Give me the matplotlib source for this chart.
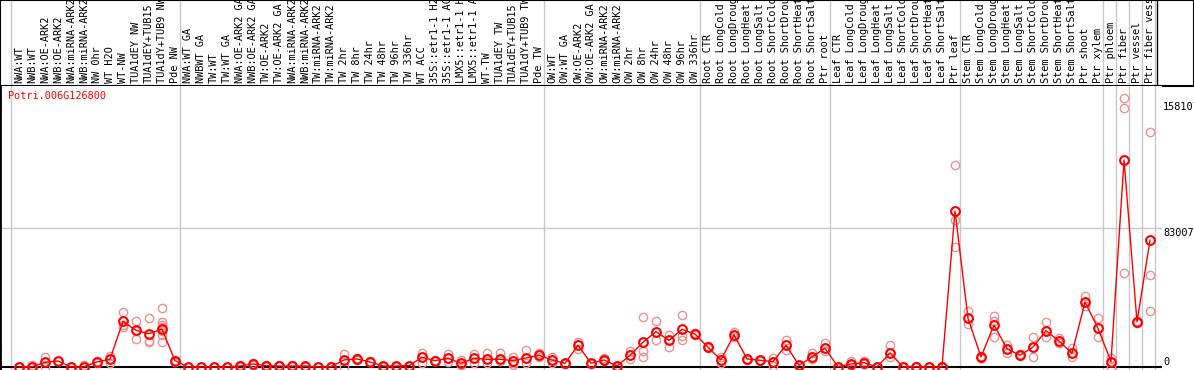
import numpy as np
import matplotlib
matplotlib.use('Agg')
import matplotlib.pyplot as plt
import matplotlib.transforms as mtransforms

# sample names, in plotted order
samples = [
    "NWA:WT", "NWB:WT", "NWA:OE-ARK2", "NWB:OE-ARK2", "NWA:miRNA-ARK2", "NWB:miRNA-ARK2",
    "NW 0hr", "WT H2O", "WT-NW", "TUA1dEY NW", "TUA1dEY+TUB15", "TUA1dY+TUB9 NW", "Pde NW",
    "NWA:WT GA", "NWBWT GA", "TW:WT", "TW:WT GA", "NWA:OE-ARK2 GA", "NWB:OE-ARK2 GA",
    "TW:OE-ARK2", "TW:OE-ARK2 GA", "NWA:miRNA-ARK2", "NWB:miRNA-ARK2", "TW:miRNA-ARK2",
    "TW:miRNA-ARK2", "TW 2hr", "TW 8hr", "TW 24hr", "TW 48hr", "TW 96hr", "TW 336hr",
    "WT ACC", "35S::etr1-1 H2O", "35S::etr1-1 ACC", "LMX5::etr1-1 H2O", "LMX5::etr1-1 ACC",
    "WT-TW", "TUA1dEY TW", "TUA1dEY+TUB15", "TUA1dY+TUB9 TW", "Pde TW",
    "OW:WT", "OW:WT GA", "OW:OE-ARK2", "OW:OE-ARK2 GA", "OW:miRNA-ARK2", "OW:miRNA-ARK2",
    "OW 2hr", "OW 8hr", "OW 24hr", "OW 48hr", "OW 96hr", "OW 336hr",
    "Root CTR", "Root LongCold", "Root LongDrought", "Root LongHeat", "Root LongSalt",
    "Root ShortCold", "Root ShortDrought", "Root ShortHeat", "Root ShortSalt", "Ptr root",
    "Leaf CTR", "Leaf LongCold", "Leaf LongDrought", "Leaf LongHeat", "Leaf LongSalt",
    "Leaf ShortCold", "Leaf ShortDrought", "Leaf ShortHeat", "Leaf ShortSalt", "Ptr leaf",
    "Stem CTR", "Stem LongCold", "Stem LongDrought", "Stem LongHeat", "Stem LongSalt",
    "Stem ShortCold", "Stem ShortDrought", "Stem ShortHeat", "Stem ShortSalt", "Ptr shoot",
    "Ptr xylem", "Ptr phloem", "Ptr fiber", "Ptr vessel", "Ptr fiber vessel",
]

# mean expression per sample
means = [
    0, 200, 2800, 3600, 0, 200, 3000, 4600, 27300, 21900, 19900, 22700, 3800,
    0, 0, 0, 0, 600, 1800, 800, 600, 600, 600, 0, 200, 4200, 4800, 3000, 600, 600, 800,
    5800, 3800, 5200, 2200, 5200, 4600, 4600, 3800, 5400, 7000,
    4200, 2200, 13000, 2200, 4200, 600, 7000, 14800, 21100, 15900, 22500, 19700,
    11800, 4200, 19300, 4800, 4000, 3200, 13000, 1000, 6000, 11200,
    200, 1800, 2600, 0, 8400, 0, 200, 0, 200, 93200,
    29100, 6000, 25100, 10900, 7000, 11900, 21700, 15500, 8200, 38800,
    23100, 3200, 123600, 26900, 75700,
]

# individual replicates per sample
replicates = [
    [0, 0, 0], [1200, 0, 200], [6000, 2800, 0], [3600, 3400, 3800], [0, 0, 0],
    [1200, 0, 0], [3000, 2400, 3600], [6600, 4600, 2600], [32700, 24000, 25200],
    [27300, 16900, 21500], [29300, 14900, 15500],
    [35200, 26900, 25300, 24100, 21700, 18900, 14900], [3800, 3200, 4400],
    [0, 0], [0, 0], [0, 0], [0, 0], [600, 1200, 0], [1800, 2400, 1200], [800, 400, 1200],
    [600, 1000], [600, 1000], [600, 200], [0, 0], [200, 600], [7800, 4200, 0],
    [4800, 5400, 4200], [3000, 3400], [600, 200], [600, 200], [800, 400],
    [8500, 5800, 2600], [3800, 4400], [7800, 5200, 3000], [4200, 2200, 1000],
    [7800, 5200, 2600], [8200, 4600, 2200], [8500, 4600, 3600], [6200, 2600, 1000],
    [10200, 5400, 2200], [8500, 7000, 6000],
    [5800, 4200, 2600], [2200, 1600], [14900, 13000, 10500], [2200, 1600],
    [5400, 4200, 3400], [600, 200], [9800, 7000, 4600], [30000, 9800, 5800],
    [27300, 21100, 15900], [19300, 15900, 11800], [30900, 18500, 16100],
    [19700, 19100, 20300],
    [11800, 11200, 12400], [5800, 4200, 2600], [20900, 19300, 17700], [4800, 4200],
    [4000, 3600], [5400, 3200, 600], [16100, 13000, 10400], [1000, 600],
    [8200, 6000, 5000], [14500, 11200, 9800],
    [200, 0], [3400, 1800, 1200], [3400, 2600, 1800], [0, 0], [13300, 8400, 5800],
    [0, 0], [600, 0], [0, 0], [600, 0], [120500, 87800, 71500],
    [33600, 29100, 25500], [6000, 5400, 6600], [30500, 27600, 17700],
    [13100, 10900, 8500], [7800, 7000, 6400], [17700, 11900, 5800],
    [26900, 21700, 17700], [17100, 15500, 14100], [11200, 8200, 5800],
    [42400, 38800, 36400],
    [29100, 23100, 17700], [5200, 3200, 200], [160600, 154500, 56000],
    [26900, 26300, 27500], [140200, 54800, 33400],
]

# first sample index after each grey separator
group_starts = [0, 13, 41, 53, 63, 73, 84, 85, 86, 87, 88]

gene = "Potri.006G126800"
ytick_values = [0, 83007, 158107]

MONO = "DejaVu Sans Mono"
FS = 7.4
W, H = 1194, 370
fig = plt.figure(figsize=(W / 100, H / 100), dpi=100)

def px_x(p):
    # pixel column -> sample index
    return (p - 19) / 13.0

x = np.arange(len(samples))
sep = np.array(group_starts) - 8 / 13.0

## header with rotated sample names (long ones get cut at the top, like the original)
hdr = fig.add_axes([0, 1 - 85.5 / H, 1, 85.5 / H])
hdr.set_xlim(px_x(0), px_x(W))
hdr.set_ylim(85.5, 0)
hdr.set_xticks([])
hdr.set_yticks([])
for sp in hdr.spines.values():
    sp.set_color('black')
    sp.set_linewidth(1.5)
for s in sep:
    hdr.axvline(s, color='#c8c8c8', lw=1)
hdr.axvline(px_x(1156.5), color='black', lw=1)
for i, s in enumerate(samples):
    hdr.text(i, 83, s, rotation=90, ha='center', va='bottom', fontsize=FS,
             family=MONO, clip_on=True)

## main plot
ax = fig.add_axes([0, 0, 1162 / W, 284 / H])
per_px = 597.2
ax.set_xlim(px_x(0), px_x(1162))
ax.set_ylim(-3 * per_px, 281 * per_px)
ax.set_xticks([])
ax.set_yticks([])
for k in ['top', 'right', 'bottom']:
    ax.spines[k].set_visible(False)
ax.spines['left'].set_linewidth(2)
ax.spines['left'].set_color('black')

for s in sep:
    ax.axvline(s, color='#c8c8c8', lw=1, zorder=1)
ax.axhline(ytick_values[1], color='#c8c8c8', lw=1, zorder=1)
ax.axhline(0, color='black', lw=1.5, zorder=1)

for i, reps in enumerate(replicates):
    ax.plot([i] * len(reps), reps, 'o', mfc='none', mec='#f09090', ms=6, mew=1,
            zorder=2, clip_on=False)
ax.plot(x, means, '-', color='red', lw=1, zorder=3)
ax.plot(x, means, 'o', mfc='none', mec='red', ms=6.3, mew=1.5, zorder=4, clip_on=False)

ax.text(px_x(8), 276 * per_px, gene, color='red', fontsize=FS, family=MONO,
        ha='left', va='top')

# value labels on the right
tr = mtransforms.blended_transform_factory(fig.transFigure, ax.transData)
for v in ytick_values:
    ax.text(1163 / W, v, str(v), transform=tr, fontsize=FS, family=MONO,
            ha='left', va='bottom' if v == 0 else 'top', clip_on=False)

fig.savefig('out.png', dpi=100)
